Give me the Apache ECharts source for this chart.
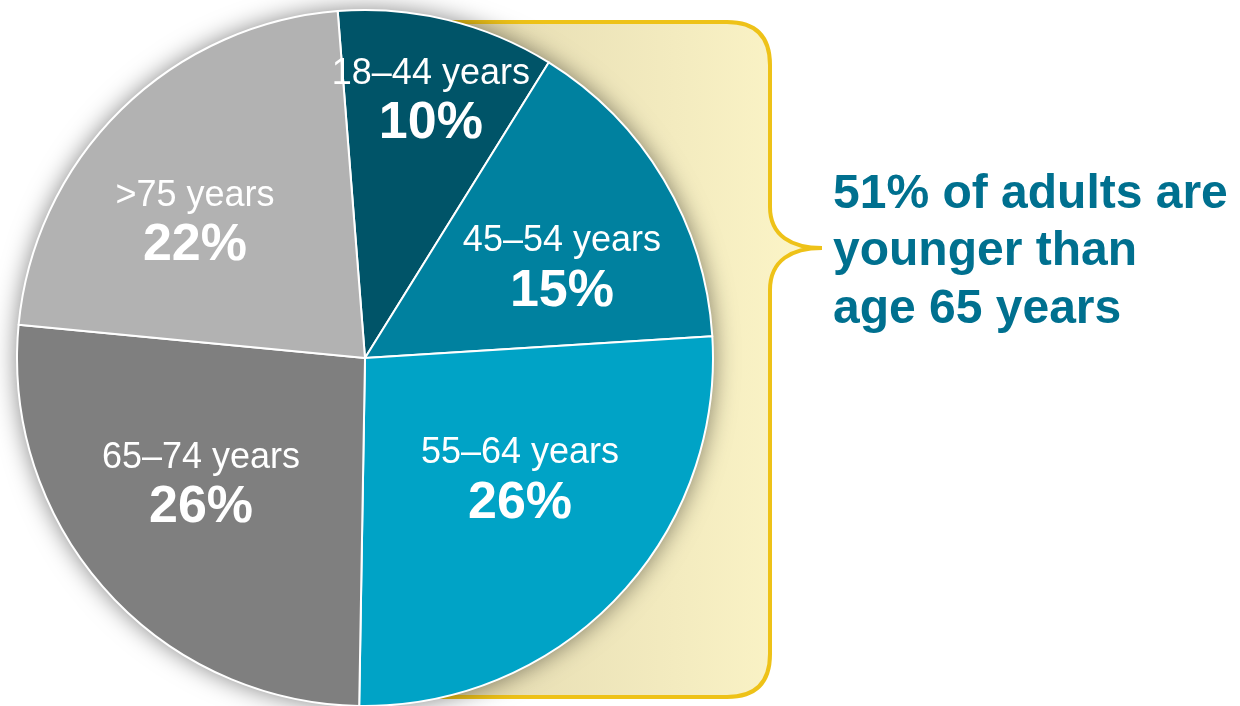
<!DOCTYPE html>
<html>
<head>
<meta charset="utf-8">
<script src="https://cdn.jsdelivr.net/npm/echarts@6/dist/echarts.min.js"></script>
<style>
  html, body { margin: 0; padding: 0; background: #ffffff; }
  #chart { width: 1240px; height: 706px; }
</style>
</head>
<body>
<div id="chart"></div>
<script>
// Age distribution of adults (share of total, %)
const ageGroups = ['18–44 years', '45–54 years', '55–64 years', '65–74 years', '>75 years'];
const shares = [10, 15, 26, 26, 22];
const sliceColors = ['#005468', '#00819f', '#00a3c6', '#7f7f7f', '#b2b2b2'];
// Nudges of each label away from the default "inside" anchor
const labelNudges = [[24, -84], [45, 2], [27, 1], [-32, 10], [-46, -8]];

const captionLines = ['51% of adults are', 'younger than', 'age 65 years'];

const pieCenter = [365, 358];
const pieRadius = 348;

// Curly brace shape: open box whose right side carries a pointed tip
const Brace = echarts.graphic.extendShape({
  shape: { left: 0, top: 0, right: 0, bottom: 0, r: 0, tipX: 0, tipY: 0 },
  buildPath: function (ctx, s) {
    ctx.moveTo(s.left, s.top);
    ctx.lineTo(s.right - s.r, s.top);
    ctx.quadraticCurveTo(s.right, s.top, s.right, s.top + s.r);
    ctx.lineTo(s.right, s.tipY - 41);
    ctx.bezierCurveTo(s.right, s.tipY - 12, s.right + 22, s.tipY, s.tipX, s.tipY);
    ctx.bezierCurveTo(s.right + 22, s.tipY, s.right, s.tipY + 12, s.right, s.tipY + 42);
    ctx.lineTo(s.right, s.bottom - s.r);
    ctx.quadraticCurveTo(s.right, s.bottom, s.right - s.r, s.bottom);
    ctx.lineTo(s.left, s.bottom);
  }
});
echarts.graphic.registerShape('brace', Brace);

const chart = echarts.init(document.getElementById('chart'), null, { renderer: 'canvas' });

const sliceData = ageGroups.map((name, i) => ({
  name: name,
  value: shares[i],
  itemStyle: { color: sliceColors[i] }
}));

chart.setOption({
  animation: false,
  backgroundColor: '#ffffff',
  graphic: [
    {
      type: 'brace',
      z: 0,
      shape: { left: 365, top: 22, right: 770, bottom: 697, r: 43, tipX: 822, tipY: 248 },
      style: {
        fill: {
          type: 'linear', x: 0, y: 0, x2: 1, y2: 0,
          colorStops: [
            { offset: 0, color: '#d3c79b' },
            { offset: 0.35, color: '#e9e0b6' },
            { offset: 1, color: '#fdf6c8' }
          ]
        },
        stroke: '#eec218',
        lineWidth: 4
      }
    },
    {
      type: 'text',
      z: 10,
      x: 833,
      y: 166,
      style: {
        text: captionLines.join('\n'),
        fill: '#00708f',
        font: 'bold 48px "Liberation Sans", Arial, sans-serif',
        lineHeight: 57.5,
        textAlign: 'left',
        textVerticalAlign: 'top'
      }
    }
  ],
  series: [
    {
      // soft drop shadow beneath the pie
      type: 'pie',
      z: 1,
      silent: true,
      center: pieCenter,
      radius: pieRadius,
      label: { show: false },
      labelLine: { show: false },
      itemStyle: {
        color: '#ffffff',
        shadowBlur: 24,
        shadowColor: 'rgba(0,0,0,0.5)'
      },
      data: [{ value: 1, name: '' }]
    },
    {
      type: 'pie',
      z: 2,
      center: pieCenter,
      radius: pieRadius,
      startAngle: 94.5,
      clockwise: true,
      avoidLabelOverlap: false,
      itemStyle: {
        borderColor: '#ffffff',
        borderWidth: 2
      },
      label: {
        show: true,
        position: 'inside',
        formatter: '{n|{b}}\n{v|{c}%}',
        color: '#ffffff',
        align: 'center',
        rich: {
          n: {
            color: '#ffffff',
            fontFamily: '"Liberation Sans", Arial, sans-serif',
            fontSize: 36,
            lineHeight: 44,
            align: 'center'
          },
          v: {
            color: '#ffffff',
            fontFamily: '"Liberation Sans", Arial, sans-serif',
            fontWeight: 'bold',
            fontSize: 52,
            lineHeight: 56,
            align: 'center'
          }
        }
      },
      labelLine: { show: false },
      labelLayout: function (params) {
        const n = labelNudges[params.dataIndex];
        return { dx: n[0], dy: n[1] };
      },
      emphasis: { disabled: true },
      data: sliceData
    }
  ]
});
</script>
</body>
</html>
